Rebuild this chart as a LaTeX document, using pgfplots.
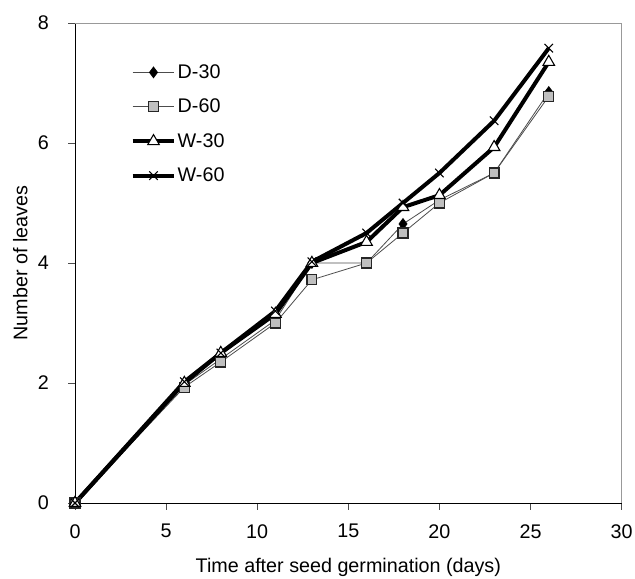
\documentclass[border=0pt]{standalone}
\usepackage{fontspec}
\setmainfont{Liberation Sans}
\usepackage{pgfplots}
\pgfplotsset{compat=1.18}

\begin{document}
\begin{tikzpicture}
\useasboundingbox (-56.25pt,-56.25pt) rectangle (420pt,377.25pt);
\begin{axis}[
  scale only axis,
  width=410pt, height=360pt,
  at={(0,0)}, anchor=south west,
  xmin=0, xmax=30, ymin=0, ymax=8,
  xtick={0,5,...,30}, ytick={0,2,...,8},
  axis x line*=bottom, axis y line*=left,
  axis line style={black, line width=0.6pt},
  tick align=outside, major tick length=5pt,
  tick style={black!70, line width=0.5pt},
  font=\fontsize{14.8}{17}\selectfont,
  /pgf/number format/assume math mode=true,
  xlabel={Time after seed germination (days)},
  ylabel={Number of leaves},
  xticklabel style={yshift=-7.5pt},
  yticklabel style={xshift=-11pt},
  xlabel style={at={([yshift=-48pt]axis description cs:0.5,0)}, anchor=center},
  ylabel style={at={([xshift=-41pt]axis description cs:0,0.5)}, anchor=center},
  clip=false,
  legend cell align=left,
  legend style={draw=none, fill=none, at={(rel axis cs:0.094,0.9225)}, anchor=north west,
    row sep=12pt, font=\fontsize{14.8}{17}\selectfont,
    nodes={inner sep=1pt}},
  legend image code/.code={
    \draw[mark repeat=2, mark phase=2, #1] plot coordinates {(0cm,0cm) (0.55cm,0cm) (1.1cm,0cm)};
  },
]
% frame (top and right in light grey)
\draw[black!40, line width=0.6pt] (rel axis cs:0,1) -- (rel axis cs:1,1) -- (rel axis cs:1,0);

\addplot[black!70, line width=0.6pt, mark=diamond*, mark size=4pt,
  mark options={fill=black, draw=black, solid}] coordinates {
  (0,0) (6,1.97) (8,2.40) (11,3.05) (13,4.00) (16,4.00) (18,4.65) (20,5.05) (23,5.50) (26,6.85)
};
\addlegendentry{D-30}
\addplot[black!70, line width=0.6pt, mark=square*, mark size=3.7pt,
  mark options={fill=black!25, draw=black!85, line width=0.9pt, solid}] coordinates {
  (0,0) (6,1.93) (8,2.35) (11,3.00) (13,3.72) (16,4.00) (18,4.50) (20,5.00) (23,5.50) (26,6.78)
};
\addlegendentry{D-60}
\addplot[black, line width=3pt, mark=triangle*, mark size=5pt,
  mark options={fill=white, draw=black, line width=0.8pt, solid}] coordinates {
  (0,0) (6,2.00) (8,2.50) (11,3.15) (13,4.00) (16,4.35) (18,4.93) (20,5.13) (23,5.93) (26,7.35)
};
\addlegendentry{W-30}
\addplot[black, line width=3pt, mark=x, mark size=4.5pt,
  mark options={draw=black, line width=0.8pt, solid}] coordinates {
  (0,0) (6,2.02) (8,2.50) (11,3.20) (13,4.02) (16,4.50) (18,5.00) (20,5.50) (23,6.37) (26,7.58)
};
\addlegendentry{W-60}
\end{axis}
\end{tikzpicture}
\end{document}
